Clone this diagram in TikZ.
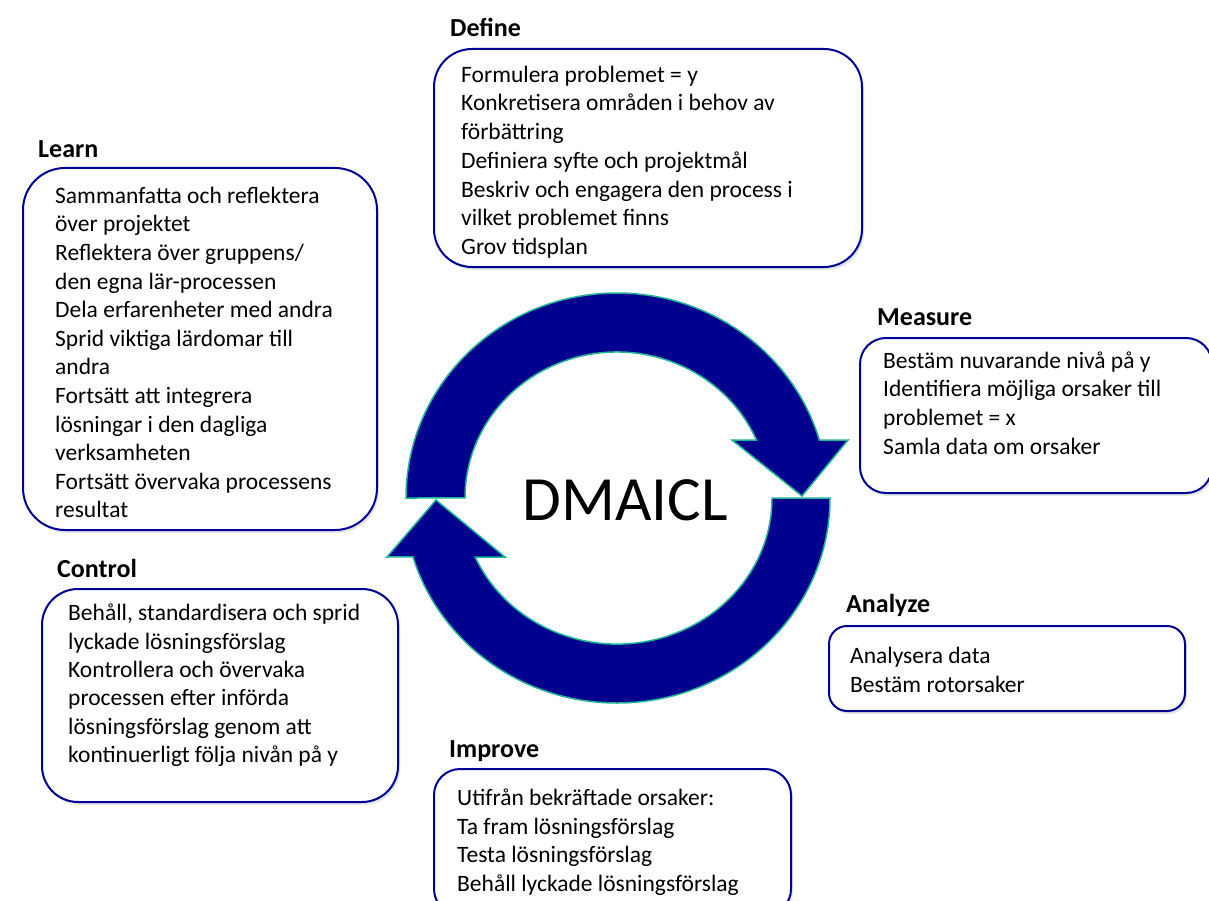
\documentclass[tikz,border=0pt]{standalone}
\usepackage{fontspec}
\setmainfont{Carlito}
\usetikzlibrary{shadows}
\definecolor{navy}{RGB}{0,0,143}
\definecolor{boxline}{RGB}{0,0,150}
\definecolor{rimteal}{RGB}{30,180,150}
\tikzset{
  head/.style={anchor=base west, inner sep=0pt, font=\fontsize{26}{30}\selectfont\bfseries},
  body/.style={anchor=north west, inner sep=0pt, align=left},
  stepbox/.style={draw=boxline, line width=2pt, fill=white, inner sep=0pt,
    drop shadow={opacity=0.2, shadow xshift=2pt, shadow yshift=-3pt}},
  cyc/.style={fill=navy, draw=rimteal, line width=1.5pt, line join=miter},
}
\begin{document}
\begin{tikzpicture}[x=1pt,y=-1pt]
\useasboundingbox (0,0) rectangle (1209,901);
\fill[white] (0,0) rectangle (1209,901);

% boxes
\node[stepbox, rounded corners=38pt, minimum width=428pt, minimum height=218pt] (defbox) at (648,158) {};
\node[stepbox, rounded corners=42pt, minimum width=354pt, minimum height=362pt] (learnbox) at (200,349) {};
\node[stepbox, rounded corners=26pt, minimum width=352pt, minimum height=155pt] (measbox) at (1036,415.5) {};
\node[stepbox, rounded corners=18pt, minimum width=356pt, minimum height=85pt] (anabox) at (1007,668.5) {};
\node[stepbox, rounded corners=26pt, minimum width=357pt, minimum height=146pt] (impbox) at (612.5,842) {};
\node[stepbox, rounded corners=36pt, minimum width=356pt, minimum height=213pt] (ctrlbox) at (220,695.5) {};

% headings
\node[head] (defhead) at (450,37) {Define};
\node[head] (learnhead) at (38,158) {Learn};
\node[head] (meashead) at (877,325) {Measure};
\node[head] (anahead) at (846,612) {Analyze};
\node[head] (imphead) at (449,757) {Improve};
\node[head] (ctrlhead) at (57,577) {Control};

% body texts
\node[body, font=\fontsize{23.5}{28.7}\selectfont] (deftext) at (461,62) {\strut Formulera problemet = y\\
Konkretisera områden i behov av\\
förbättring\\
Definiera syfte och projektmål\\
Beskriv och engagera den process i\\
vilket problemet finns\\
Grov tidsplan};

\node[body, font=\fontsize{23.5}{28.6}\selectfont] (learntext) at (55,183) {\strut Sammanfatta och reflektera\\
över projektet\\
Reflektera över gruppens/\\
den egna lär-processen\\
Dela erfarenheter med andra\\
Sprid viktiga lärdomar till\\
andra\\
Fortsätt att integrera\\
lösningar i den dagliga\\
verksamheten\\
Fortsätt övervaka processens\\
resultat};

\node[body, font=\fontsize{23.5}{28.6}\selectfont] (meastext) at (883,348) {\strut Bestäm nuvarande nivå på y\\
Identifiera möjliga orsaker till\\
problemet = x\\
Samla data om orsaker};

\node[body, font=\fontsize{23.5}{29}\selectfont] (anatext) at (850,642.7) {\strut Analysera data\\
Bestäm rotorsaker};

\node[body, font=\fontsize{23.5}{28.8}\selectfont] (imptext) at (457,785) {\strut Utifrån bekräftade orsaker:\\
Ta fram lösningsförslag\\
Testa lösningsförslag\\
Behåll lyckade lösningsförslag};

\node[body, font=\fontsize{23.5}{28.4}\selectfont] (ctrltext) at (68,600.7) {\strut Behåll, standardisera och sprid\\
lyckade lösningsförslag\\
Kontrollera och övervaka\\
processen efter införda\\
lösningsförslag genom att\\
kontinuerligt följa nivån på y};

% cycle arrows
\draw[cyc] (406,498) arc[start angle=180, end angle=343.6, x radius=211, y radius=205]
  -- (848,440) -- (802,496) -- (732,440) -- (756.5,440)
  arc[start angle=336.6, end angle=180, x radius=152, y radius=146] -- cycle;
\draw[cyc] (830,498) arc[start angle=0, end angle=163.3, x radius=213, y radius=205]
  -- (387,557) -- (436,500) -- (505,557) -- (475.2,557)
  arc[start angle=156.2, end angle=0, x radius=155, y radius=146] -- cycle;

\node[anchor=base, inner sep=0pt, font=\fontsize{63}{70}\selectfont] (title) at (625,520) {DMAICL};
\end{tikzpicture}
\end{document}
